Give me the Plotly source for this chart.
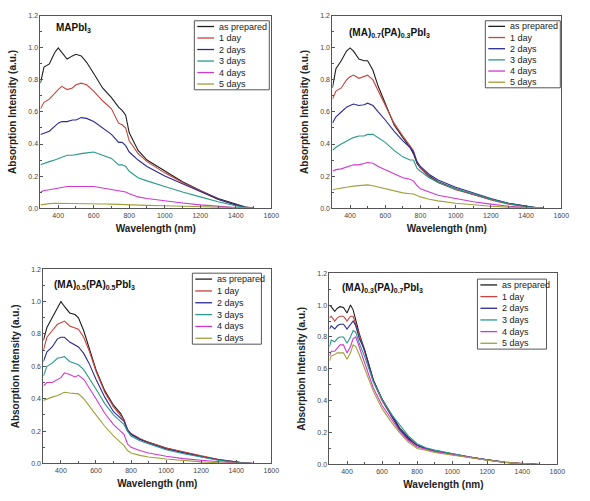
import plotly.graph_objects as go

W, H = 590, 501

SERIES_NAMES = ["as prepared", "1 day", "2 days", "3 days", "4 days", "5 days"]
COLORS = ["#1e1e1e", "#c9433c", "#2b2b96", "#2a9a88", "#d038d0", "#a0a03c"]

PANEL_TITLES = [
    "<b>MAPbI<sub>3</sub></b>",
    "<b>(MA)<sub>0.7</sub>(PA)<sub>0.3</sub>PbI<sub>3</sub></b>",
    "<b>(MA)<sub>0.5</sub>(PA)<sub>0.5</sub>PbI<sub>3</sub></b>",
    "<b>(MA)<sub>0.3</sub>(PA)<sub>0.7</sub>PbI<sub>3</sub></b>",
]

X_TICKS = [400, 600, 800, 1000, 1200, 1400, 1600]
Y_TICKS = [0.0, 0.2, 0.4, 0.6, 0.8, 1.0, 1.2]

# wavelength grid (nm) for panels 1-3
WL = [300, 320, 350, 380, 400, 420, 450, 480, 500, 530, 560, 600, 650, 700,
      740, 760, 780, 800, 850, 900, 1000, 1100, 1200, 1300, 1400, 1450, 1500]
# wavelength grid (nm) for panel 4
WL4 = [300, 310, 330, 345, 360, 380, 400, 420, 435, 450, 470, 500, 550, 600,
       650, 700, 750, 800, 850, 900, 1000, 1100, 1200, 1300, 1400, 1450, 1500]

# Panel 1: MAPbI3
p1_prepared = [0.78, 0.88, 0.90, 0.97, 1.00, 0.97, 0.93, 0.95, 0.96, 0.95, 0.91, 0.84, 0.75, 0.69,
               0.63, 0.61, 0.58, 0.47, 0.36, 0.30, 0.23, 0.165, 0.11, 0.06, 0.025, 0.008, 0.0]
p1_day1 = [0.62, 0.66, 0.68, 0.72, 0.74, 0.76, 0.74, 0.75, 0.77, 0.78, 0.77, 0.73, 0.67, 0.62,
           0.53, 0.52, 0.50, 0.42, 0.34, 0.29, 0.22, 0.16, 0.105, 0.055, 0.02, 0.005, 0.0]
p1_day2 = [0.46, 0.47, 0.48, 0.51, 0.53, 0.54, 0.54, 0.55, 0.55, 0.565, 0.56, 0.54, 0.50, 0.46,
           0.41, 0.41, 0.39, 0.35, 0.30, 0.26, 0.20, 0.15, 0.10, 0.055, 0.02, 0.005, 0.0]
p1_day3 = [0.27, 0.28, 0.29, 0.30, 0.31, 0.32, 0.33, 0.33, 0.335, 0.34, 0.345, 0.35, 0.33, 0.31,
           0.27, 0.27, 0.26, 0.23, 0.19, 0.17, 0.135, 0.10, 0.07, 0.04, 0.015, 0.004, 0.0]
p1_day4 = [0.10, 0.11, 0.115, 0.12, 0.125, 0.13, 0.135, 0.135, 0.135, 0.135, 0.135, 0.135, 0.125, 0.115,
           0.105, 0.105, 0.10, 0.09, 0.07, 0.06, 0.045, 0.032, 0.02, 0.01, 0.003, 0.001, 0.0]
p1_day5 = [0.02, 0.025, 0.028, 0.03, 0.03, 0.03, 0.03, 0.03, 0.03, 0.029, 0.028, 0.028, 0.026, 0.025,
           0.023, 0.023, 0.022, 0.021, 0.019, 0.017, 0.015, 0.012, 0.008, 0.005, 0.002, 0.001, 0.0]

# Panel 2: (MA)0.7(PA)0.3PbI3
p2_prepared = [0.75, 0.87, 0.92, 0.98, 1.00, 0.98, 0.93, 0.92, 0.92, 0.86, 0.76, 0.65, 0.52, 0.44,
               0.38, 0.34, 0.28, 0.25, 0.20, 0.165, 0.12, 0.085, 0.055, 0.03, 0.01, 0.003, 0.0]
p2_day1 = [0.68, 0.73, 0.75, 0.80, 0.82, 0.83, 0.81, 0.82, 0.83, 0.80, 0.73, 0.64, 0.53, 0.45,
           0.39, 0.36, 0.29, 0.25, 0.195, 0.16, 0.115, 0.085, 0.05, 0.025, 0.008, 0.002, 0.0]
p2_day2 = [0.53, 0.57, 0.60, 0.63, 0.64, 0.65, 0.64, 0.645, 0.655, 0.64, 0.60, 0.55, 0.48, 0.42,
           0.38, 0.35, 0.29, 0.26, 0.21, 0.175, 0.13, 0.095, 0.06, 0.03, 0.01, 0.003, 0.0]
p2_day3 = [0.36, 0.38, 0.40, 0.42, 0.43, 0.44, 0.45, 0.45, 0.46, 0.46, 0.44, 0.41, 0.36, 0.32,
           0.30, 0.30, 0.25, 0.23, 0.19, 0.16, 0.12, 0.09, 0.055, 0.028, 0.008, 0.002, 0.0]
p2_day4 = [0.23, 0.24, 0.245, 0.255, 0.26, 0.27, 0.27, 0.28, 0.285, 0.28, 0.26, 0.24, 0.215, 0.19,
           0.18, 0.17, 0.14, 0.12, 0.10, 0.08, 0.06, 0.04, 0.025, 0.012, 0.004, 0.001, 0.0]
p2_day5 = [0.115, 0.12, 0.125, 0.13, 0.135, 0.137, 0.14, 0.142, 0.145, 0.14, 0.132, 0.12, 0.105, 0.095,
           0.09, 0.088, 0.078, 0.07, 0.055, 0.045, 0.03, 0.02, 0.012, 0.006, 0.002, 0.001, 0.0]

# Panel 3: (MA)0.5(PA)0.5PbI3
p3_prepared = [0.76, 0.84, 0.90, 0.96, 1.00, 0.97, 0.93, 0.92, 0.90, 0.82, 0.72, 0.58, 0.45, 0.36,
               0.31, 0.27, 0.20, 0.18, 0.15, 0.13, 0.095, 0.07, 0.045, 0.025, 0.008, 0.002, 0.0]
p3_day1 = [0.70, 0.78, 0.82, 0.86, 0.87, 0.88, 0.85, 0.84, 0.83, 0.78, 0.70, 0.57, 0.44, 0.35,
           0.30, 0.27, 0.21, 0.185, 0.155, 0.13, 0.095, 0.07, 0.045, 0.024, 0.008, 0.002, 0.0]
p3_day2 = [0.63, 0.69, 0.72, 0.77, 0.78, 0.78, 0.75, 0.73, 0.72, 0.68, 0.62, 0.52, 0.41, 0.32,
           0.28, 0.26, 0.21, 0.18, 0.15, 0.125, 0.09, 0.065, 0.042, 0.022, 0.007, 0.002, 0.0]
p3_day3 = [0.54, 0.60, 0.62, 0.65, 0.655, 0.66, 0.63, 0.615, 0.61, 0.58, 0.53, 0.46, 0.37, 0.30,
           0.26, 0.24, 0.20, 0.17, 0.14, 0.12, 0.085, 0.06, 0.04, 0.02, 0.006, 0.002, 0.0]
p3_day4 = [0.48, 0.50, 0.50, 0.52, 0.53, 0.56, 0.55, 0.535, 0.545, 0.52, 0.47, 0.40, 0.31, 0.24,
           0.20, 0.18, 0.12, 0.10, 0.08, 0.065, 0.045, 0.03, 0.02, 0.01, 0.003, 0.001, 0.0]
p3_day5 = [0.39, 0.40, 0.41, 0.42, 0.43, 0.44, 0.435, 0.43, 0.43, 0.40, 0.36, 0.30, 0.23, 0.17,
           0.13, 0.11, 0.08, 0.065, 0.05, 0.04, 0.028, 0.018, 0.01, 0.005, 0.001, 0.0, 0.0]

# Panel 4: (MA)0.3(PA)0.7PbI3
p4_prepared = [1.00, 0.99, 0.96, 0.98, 0.99, 0.985, 0.95, 1.00, 0.97, 0.90, 0.82, 0.72, 0.53, 0.41,
               0.32, 0.23, 0.17, 0.12, 0.10, 0.085, 0.065, 0.045, 0.03, 0.015, 0.005, 0.002, 0.0]
p4_day1 = [0.92, 0.93, 0.90, 0.92, 0.93, 0.93, 0.90, 0.93, 0.93, 0.88, 0.80, 0.71, 0.52, 0.40,
           0.31, 0.22, 0.16, 0.12, 0.10, 0.085, 0.065, 0.045, 0.028, 0.014, 0.005, 0.002, 0.0]
p4_day2 = [0.85, 0.87, 0.85, 0.87, 0.88, 0.88, 0.85, 0.88, 0.90, 0.87, 0.79, 0.72, 0.53, 0.41,
           0.31, 0.22, 0.16, 0.12, 0.10, 0.088, 0.066, 0.046, 0.029, 0.014, 0.005, 0.002, 0.0]
p4_day3 = [0.74, 0.78, 0.77, 0.79, 0.80, 0.80, 0.76, 0.80, 0.84, 0.83, 0.76, 0.68, 0.52, 0.41,
           0.32, 0.25, 0.18, 0.13, 0.105, 0.09, 0.066, 0.046, 0.029, 0.014, 0.005, 0.002, 0.0]
p4_day4 = [0.68, 0.71, 0.71, 0.73, 0.75, 0.75, 0.70, 0.74, 0.79, 0.80, 0.74, 0.64, 0.48, 0.37,
           0.29, 0.21, 0.15, 0.11, 0.095, 0.08, 0.062, 0.044, 0.028, 0.013, 0.004, 0.002, 0.0]
p4_day5 = [0.65, 0.68, 0.69, 0.70, 0.70, 0.70, 0.66, 0.70, 0.75, 0.74, 0.69, 0.60, 0.46, 0.35,
           0.27, 0.20, 0.14, 0.10, 0.09, 0.075, 0.058, 0.042, 0.027, 0.013, 0.004, 0.002, 0.0]

PANELS = [
    (WL, [p1_prepared, p1_day1, p1_day2, p1_day3, p1_day4, p1_day5]),
    (WL, [p2_prepared, p2_day1, p2_day2, p2_day3, p2_day4, p2_day5]),
    (WL, [p3_prepared, p3_day1, p3_day2, p3_day3, p3_day4, p3_day5]),
    (WL4, [p4_prepared, p4_day1, p4_day2, p4_day3, p4_day4, p4_day5]),
]

# plot-area boxes in pixels: (left, top, right, bottom)
BOXES = [(41, 12, 275, 207), (337, 12, 569, 207), (44, 269, 275, 466), (334, 273, 565, 467)]
# legend boxes in pixels
LEG_BOXES = [(197, 17, 273, 87), (492, 17, 568, 85), (195, 273, 265, 345), (484, 279, 554, 350)]
# panel label positions (pixels, left/center)
LABEL_POS = [(55, 24), (352, 29), (53, 285), (345, 288)]


def pxx(x):
    return x / W


def pxy(y):
    return 1 - y / H


FONT = "Liberation Sans, Arial, sans-serif"

fig = go.Figure()
layout = dict(
    width=W, height=H, margin=dict(l=0, r=0, t=0, b=0),
    paper_bgcolor="white", plot_bgcolor="white", showlegend=False,
    font=dict(family=FONT, color="#222"),
)
shapes = []
annotations = []

for i, ((wl, series), box) in enumerate(zip(PANELS, BOXES)):
    sfx = "" if i == 0 else str(i + 1)
    xa, ya = "x" + sfx, "y" + sfx
    for name, vals, col in zip(SERIES_NAMES, series, COLORS):
        fig.add_trace(go.Scatter(x=wl, y=vals, mode="lines", name=name,
                                 line=dict(color=col, width=1.1),
                                 xaxis=xa, yaxis=ya, showlegend=False))
    l, t, r, b = box
    axis_common = dict(showline=True, linecolor="#555", linewidth=1, mirror=True,
                       ticks="inside", ticklen=3, tickcolor="#555", showgrid=False,
                       zeroline=False, tickfont=dict(size=7, color="#444"))
    layout["xaxis" + sfx] = dict(
        axis_common, domain=[pxx(l), pxx(r)], range=[300, 1600], anchor=ya,
        tickvals=X_TICKS,
        minor=dict(ticks="inside", ticklen=2, dtick=100, tick0=300, tickcolor="#555"),
        title=dict(text="<b>Wavelength (nm)</b>", font=dict(size=10, color="#222"), standoff=7),
    )
    layout["yaxis" + sfx] = dict(
        axis_common, domain=[pxy(b), pxy(t)], range=[0, 1.2], anchor=xa,
        tickvals=Y_TICKS, tickformat=".1f",
        minor=dict(ticks="inside", ticklen=2, dtick=0.1, tickcolor="#555"),
        title=dict(text="<b>Absorption Intensity (a.u.)</b>", font=dict(size=10, color="#222"), standoff=9),
    )
    # panel label
    lx, ly = LABEL_POS[i]
    annotations.append(dict(text=PANEL_TITLES[i], xref="paper", yref="paper",
                            x=pxx(lx), y=pxy(ly), xanchor="left", yanchor="middle",
                            showarrow=False, font=dict(size=10, color="#111")))
    # legend box
    bx0, by0, bx1, by1 = LEG_BOXES[i]
    shapes.append(dict(type="rect", xref="paper", yref="paper",
                       x0=pxx(bx0), x1=pxx(bx1), y0=pxy(by1), y1=pxy(by0),
                       line=dict(color="#555", width=1), fillcolor="white", layer="above"))
    row_h = (by1 - by0) / len(SERIES_NAMES)
    for k, (name, col) in enumerate(zip(SERIES_NAMES, COLORS)):
        cy = by0 + row_h * (k + 0.5)
        shapes.append(dict(type="line", xref="paper", yref="paper",
                           x0=pxx(bx0 + 3), x1=pxx(bx0 + 20), y0=pxy(cy), y1=pxy(cy),
                           line=dict(color=col, width=1.3), layer="above"))
        annotations.append(dict(text=name, xref="paper", yref="paper",
                                x=pxx(bx0 + 23), y=pxy(cy), xanchor="left", yanchor="middle",
                                showarrow=False, font=dict(size=9, color="#222")))

layout["shapes"] = shapes
layout["annotations"] = annotations
fig.update_layout(**layout)
fig.write_html("out.html", config={"displayModeBar": False},
               post_script="document.body.style.margin='0';")
